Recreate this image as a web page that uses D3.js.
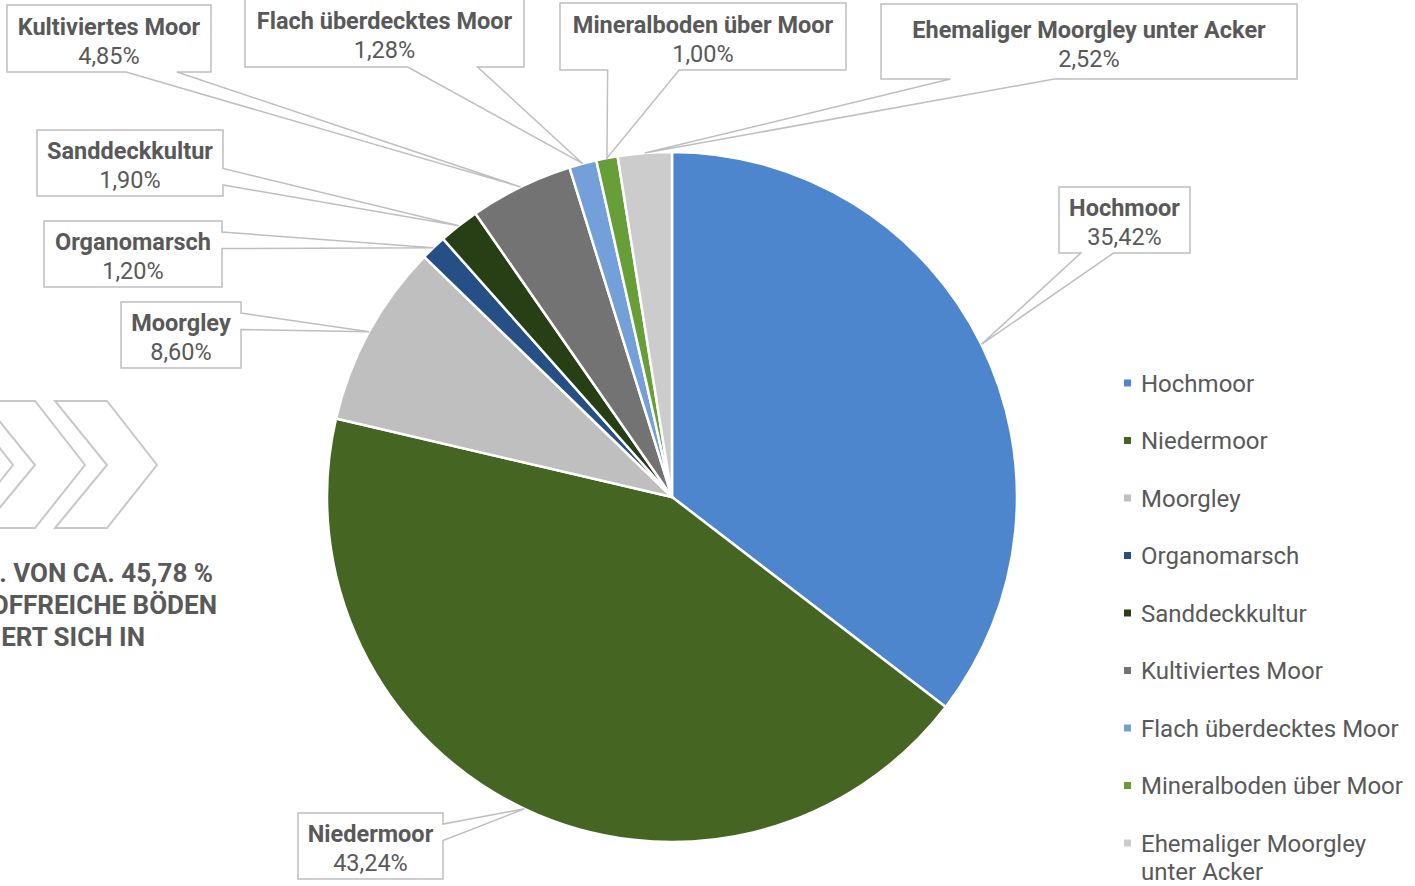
<!DOCTYPE html>
<html>
<head>
<meta charset="utf-8">
<script src="https://cdn.jsdelivr.net/npm/d3@7/dist/d3.min.js"></script>
<style>
  body { margin: 0; background: #fff; overflow: hidden; }
  svg { display: block; font-family: Roboto, "Noto Sans", sans-serif; }
</style>
</head>
<body>
<svg id="chart" width="1415" height="886"></svg>
<script>
// chart data
const categories = [
  "Hochmoor",
  "Niedermoor",
  "Moorgley",
  "Organomarsch",
  "Sanddeckkultur",
  "Kultiviertes Moor",
  "Flach überdecktes Moor",
  "Mineralboden über Moor",
  "Ehemaliger Moorgley unter Acker",
];
const shares = [35.42, 43.24, 8.6, 1.2, 1.9, 4.85, 1.28, 1.0, 2.52];
const sliceColors = [
  "#4e86cd", "#456623", "#bfbfbf", "#264f86", "#283f16",
  "#737373", "#73a0d8", "#679e38", "#cccccc",
];
const legendLines = [
  ["Hochmoor"], ["Niedermoor"], ["Moorgley"], ["Organomarsch"], ["Sanddeckkultur"],
  ["Kultiviertes Moor"], ["Flach überdecktes Moor"], ["Mineralboden über Moor"],
  ["Ehemaliger Moorgley", "unter Acker"],
];
// callout boxes [x, y, w, h], same order as categories
const calloutBoxes = [
  [1059, 187, 131, 66],
  [298, 813, 145, 66],
  [121, 302, 120, 66],
  [44, 221, 178, 66],
  [37, 130, 186, 66],
  [7, 5, 204, 67],
  [245, -1, 279, 68],
  [560, 3, 286, 67],
  [881, 4, 416, 75],
];
const sideText = [". VON CA. 45,78 %", "OFFREICHE BÖDEN", "ERT SICH IN"];

const textColor = "#595959";
const svg = d3.select("#chart");
const cx = 672, cy = 497, radius = 345;

// chevrons on the left, partly cut off
const chevron = (dx) => [
  [55 + dx, 401], [107 + dx, 401], [157 + dx, 465],
  [107 + dx, 528], [55 + dx, 528], [107 + dx, 465],
];
svg.append("g")
  .selectAll("polygon")
  .data([0, -72, -144])
  .enter()
  .append("polygon")
  .attr("points", (d) => chevron(d).map((p) => p.join(",")).join(" "))
  .attr("fill", "none")
  .attr("stroke", "#c8c8c8")
  .attr("stroke-width", 2);

svg.append("g")
  .selectAll("text")
  .data(sideText)
  .enter()
  .append("text")
  .attr("x", (d, i) => [213, 217, 145][i])
  .attr("y", (d, i) => 582 + i * 32)
  .attr("text-anchor", "end")
  .attr("font-size", 26)
  .attr("font-weight", "bold")
  .attr("fill", textColor)
  .text((d) => d);

// pie
const pieData = d3.pie().sort(null).value((d) => d)(shares);
const arc = d3.arc().innerRadius(0).outerRadius(radius);
const pieG = svg.append("g").attr("transform", `translate(${cx},${cy})`);
pieG.selectAll("path")
  .data(pieData)
  .enter()
  .append("path")
  .attr("d", arc)
  .attr("fill", (d, i) => sliceColors[i])
  .attr("stroke", "#fff")
  .attr("stroke-width", 2.5)
  .attr("stroke-linejoin", "round");

// callouts (wedge rect shape)
const fmt = (v) => d3.format(".2f")(v).replace(".", ",") + "%";
function wedgePath(box, tip) {
  const [l, t, w, h] = box;
  const r = l + w, b = t + h;
  const dx = tip[0] - (l + w / 2), dy = tip[1] - (t + h / 2);
  const dq = dx * h / w;
  const vertical = Math.abs(dy) - Math.abs(dq) > 0;
  const x1 = l + w * (dx > 0 ? 7 : 2) / 12, x2 = l + w * (dx > 0 ? 10 : 5) / 12;
  const y1 = t + h * (dy > 0 ? 7 : 2) / 12, y2 = t + h * (dy > 0 ? 10 : 5) / 12;
  const pts = [[l, t], [x1, t]];
  if (vertical && dy < 0) pts.push(tip);
  pts.push([x2, t], [r, t], [r, y1]);
  if (!vertical && dx > 0) pts.push(tip);
  pts.push([r, y2], [r, b], [x2, b]);
  if (vertical && dy > 0) pts.push(tip);
  pts.push([x1, b], [l, b], [l, y2]);
  if (!vertical && dx < 0) pts.push(tip);
  pts.push([l, y1]);
  return "M" + pts.map((p) => p.join(",")).join("L") + "Z";
}
const labelArc = d3.arc().innerRadius(radius).outerRadius(radius);
const callG = svg.append("g");
pieData.forEach((d, i) => {
  const c = labelArc.centroid(d);
  const tip = [cx + c[0], cy + c[1]];
  const box = calloutBoxes[i];
  const g = callG.append("g");
  g.append("path")
    .attr("d", wedgePath(box, tip))
    .attr("fill", "#fff")
    .attr("stroke", "#bfbfbf")
    .attr("stroke-width", 1.5);
  const mx = box[0] + box[2] / 2, my = box[1] + box[3] / 2;
  g.append("text")
    .attr("x", mx).attr("y", my - 4)
    .attr("text-anchor", "middle")
    .attr("font-size", 23.5)
    .attr("font-weight", "bold")
    .attr("fill", textColor)
    .text(categories[i]);
  g.append("text")
    .attr("x", mx).attr("y", my + 25)
    .attr("text-anchor", "middle")
    .attr("font-size", 23.5)
    .attr("fill", textColor)
    .text(fmt(shares[i]));
});

// legend
const legend = svg.append("g")
  .selectAll("g")
  .data(legendLines)
  .enter()
  .append("g")
  .attr("transform", (d, i) => `translate(1124,${383 + i * 57.5})`);
legend.append("rect")
  .attr("x", 0).attr("y", -3.5)
  .attr("width", 7).attr("height", 7)
  .attr("fill", (d, i) => sliceColors[i]);
legend.append("text")
  .attr("x", 17)
  .attr("y", 8.5)
  .attr("font-size", 24)
  .attr("fill", textColor)
  .selectAll("tspan")
  .data((d) => d)
  .enter()
  .append("tspan")
  .attr("x", 17)
  .attr("dy", (d, j) => (j === 0 ? 0 : 28))
  .text((d) => d);
</script>
</body>
</html>
